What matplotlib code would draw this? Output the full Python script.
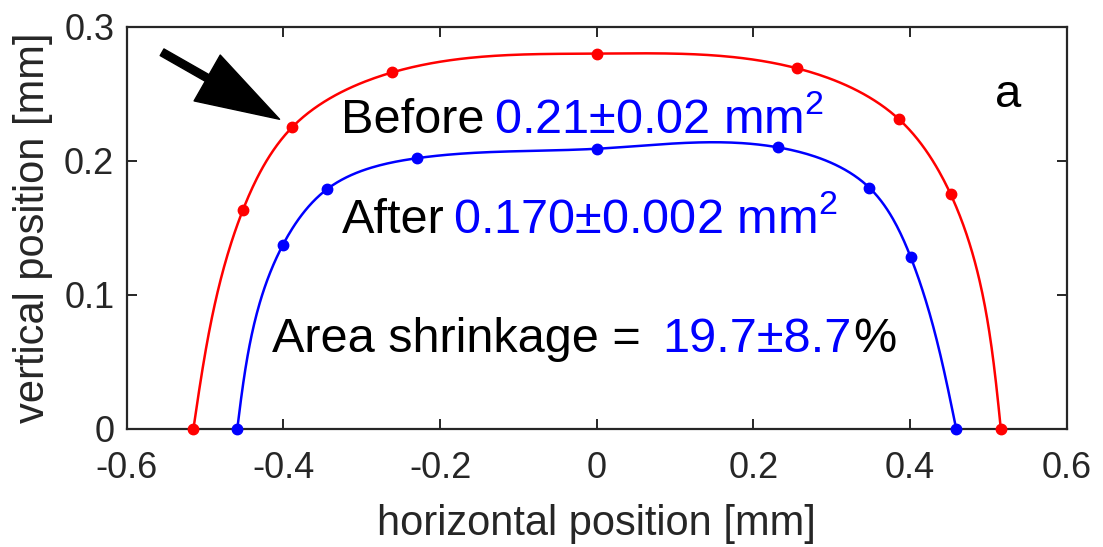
import numpy as np
import matplotlib.pyplot as plt

plt.rcParams['font.family'] = ['Liberation Sans', 'DejaVu Sans']
plt.rcParams['mathtext.fontset'] = 'custom'
plt.rcParams['mathtext.rm'] = 'Liberation Sans'
plt.rcParams['mathtext.it'] = 'Liberation Sans'

# profile before (red) and after (blue), mm
before_x = [-0.515, -0.452, -0.389, -0.261, 0.0, 0.256, 0.386, 0.452, 0.516]
before_y = [0.0, 0.163, 0.225, 0.266, 0.280, 0.269, 0.231, 0.175, 0.0]
after_x = [-0.459, -0.401, -0.344, -0.229, 0.0, 0.232, 0.348, 0.401, 0.459]
after_y = [0.0, 0.137, 0.179, 0.202, 0.209, 0.210, 0.180, 0.128, 0.0]

before_txt = '0.21±0.02 mm$^2$'
after_txt = '0.170±0.002 mm$^2$'
shrink_txt = '19.7±8.7'


def spline_curve(x, y, n=400):
    # parametric natural cubic spline through the markers (for drawing only)
    x = np.asarray(x, float)
    y = np.asarray(y, float)
    ys = y * 1.7
    t = np.concatenate([[0], np.cumsum(np.hypot(np.diff(x), np.diff(ys)))])
    tt = np.linspace(0, t[-1], n)

    def nat(v):
        m = len(t)
        h = np.diff(t)
        A = np.zeros((m, m))
        r = np.zeros(m)
        A[0, 0] = 1
        A[-1, -1] = 1
        for i in range(1, m - 1):
            A[i, i - 1] = h[i - 1]
            A[i, i] = 2 * (h[i - 1] + h[i])
            A[i, i + 1] = h[i]
            r[i] = 3 * ((v[i + 1] - v[i]) / h[i] - (v[i] - v[i - 1]) / h[i - 1])
        c = np.linalg.solve(A, r)
        b = np.diff(v) / h - h * (2 * c[:-1] + c[1:]) / 3
        d = np.diff(c) / (3 * h)
        idx = np.clip(np.searchsorted(t, tt) - 1, 0, m - 2)
        dt = tt - t[idx]
        return v[idx] + b[idx] * dt + c[idx] * dt ** 2 + d[idx] * dt ** 3

    return nat(x), nat(y)


fig = plt.figure(figsize=(11.03, 5.47), dpi=100)
ax = fig.add_axes([0.115, 0.216, 0.852, 0.735])

for xs, ys, col in [(before_x, before_y, 'red'), (after_x, after_y, 'blue')]:
    cx, cy = spline_curve(xs, ys)
    ax.plot(cx, cy, color=col, lw=1.8)
    ax.plot(xs, ys, 'o', color=col, ms=7.5, clip_on=False, zorder=5)

ax.set_xlim(-0.6, 0.6)
ax.set_ylim(0, 0.3)
ax.set_xticks([-0.6, -0.4, -0.2, 0, 0.2, 0.4, 0.6])
ax.set_xticklabels(['-0.6', '-0.4', '-0.2', '0', '0.2', '0.4', '0.6'])
ax.set_yticks([0, 0.1, 0.2, 0.3])
ax.set_yticklabels(['0', '0.1', '0.2', '0.3'])
ax.tick_params(direction='in', top=True, right=True, length=7, width=1.4,
               labelsize=26, colors='#262626')
ax.tick_params(axis='x', pad=16)
ax.tick_params(axis='y', pad=9)
for s in ax.spines.values():
    s.set_linewidth(1.6)
    s.set_color('#262626')
ax.set_xlabel('horizontal position [mm]', fontsize=30, color='#262626', labelpad=13)
ax.set_ylabel('vertical position [mm]', fontsize=30, color='#262626', labelpad=8)


def chain(prev, s, gap, color):
    # put a text just after the previous one, on the same baseline
    fig.canvas.draw()
    bb = prev.get_window_extent()
    x0 = ax.transData.inverted().transform((bb.x1 + gap, 0))[0]
    return ax.text(x0, prev.get_position()[1], s, fontsize=35, color=color,
                   va='baseline')


t1 = ax.text(-0.326, 0.221, 'Before', fontsize=35, color='black', va='baseline')
chain(t1, before_txt, 9, 'blue')
t2 = ax.text(-0.326, 0.146, 'After', fontsize=35, color='black', va='baseline')
chain(t2, after_txt, 9, 'blue')
t3 = ax.text(-0.415, 0.057, 'Area shrinkage =', fontsize=35, color='black', va='baseline')
t4 = chain(t3, shrink_txt, 22, 'blue')
chain(t4, '%', 1, 'black')
ax.text(0.508, 0.240, 'a', fontsize=34, color='black', va='baseline')

ax.annotate('', xy=(-0.405, 0.231), xytext=(-0.555, 0.281),
            arrowprops=dict(facecolor='black', edgecolor='black', width=5.5,
                            headwidth=38, headlength=60, shrink=0))

fig.savefig('out.png', dpi=100)
